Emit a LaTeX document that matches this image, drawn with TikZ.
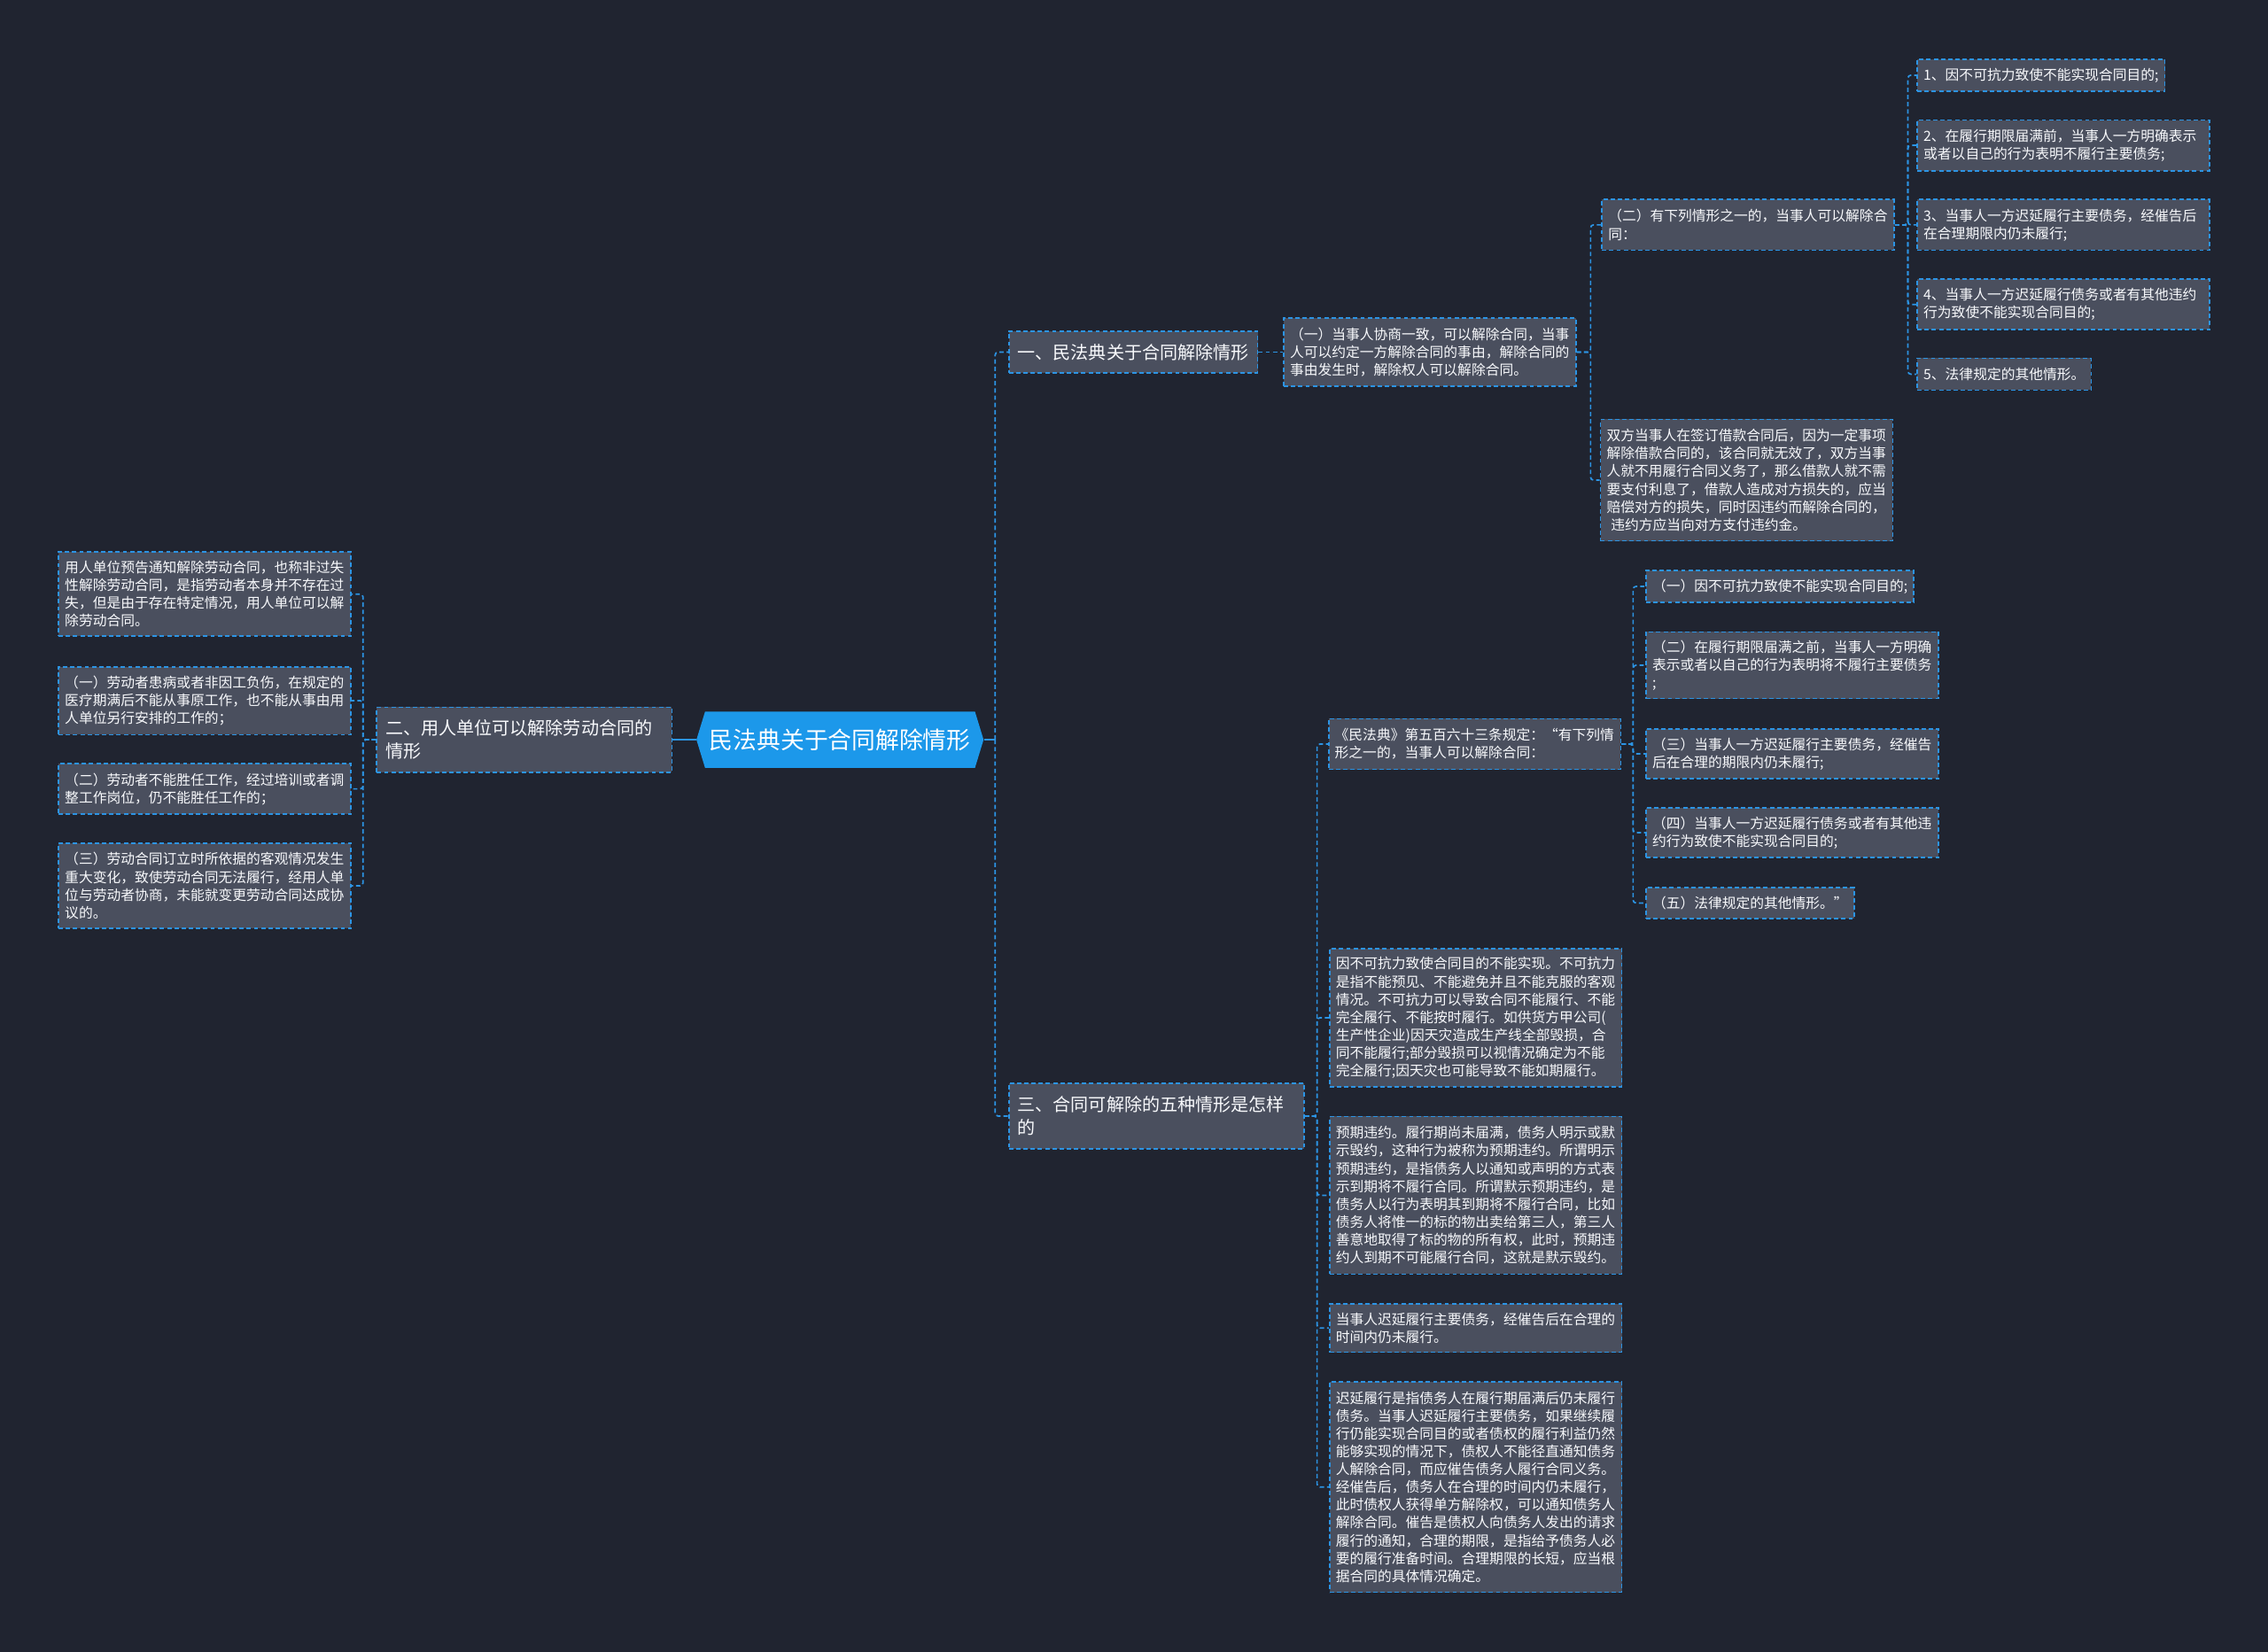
\documentclass[tikz,border=0pt]{standalone}
\usepackage{fontspec}
\setmainfont{Noto Sans CJK SC}
\usetikzlibrary{shapes.symbols}

\definecolor{bgnavy}{RGB}{32,36,48}
\definecolor{boxgrey}{RGB}{74,79,94}
\definecolor{edgeblue}{RGB}{44,148,228}
\definecolor{rootblue}{RGB}{28,152,234}
\definecolor{textwhite}{RGB}{248,249,252}

\begin{document}
\begin{tikzpicture}[x=0.3mm, y=-0.3mm,
		rootnode/.style={signal, signal to=east and west, signal pointer angle=146,
			fill=rootblue, text=white, font=\fontsize{14}{16}\selectfont,
			minimum width=59.55mm, minimum height=11.7mm, inner sep=0pt},
		topic/.style={draw=edgeblue, line width=0.9pt, dash pattern=on 0.9mm off 0.6mm,
			fill=boxgrey, text=textwhite, font=\fontsize{10.5}{13.5}\selectfont,
			align=left, anchor=west, inner xsep=1.8mm, inner ysep=0pt},
		box/.style={draw=edgeblue, line width=0.9pt, dash pattern=on 0.9mm off 0.6mm,
			fill=boxgrey, text=textwhite, font=\fontsize{8.24}{10.5}\selectfont,
			align=left, anchor=west, inner xsep=1.3mm, inner ysep=0pt},
		leaf/.style={box, text width=58mm},
		link/.style={draw=edgeblue, line width=0.9pt, dash pattern=on 0.9mm off 0.6mm,
			rounded corners=0.6mm},
		stub/.style={draw=edgeblue, line width=1.1pt},
		]
		
		\fill[bgnavy] (0,0) rectangle (1568,1142);
		
		%% ── ЦЕНТР ──────────────────────────────────────────────
		\node[rootnode] (root) at (580.75,511.5) {民法典关于合同解除情形};
		\coordinate (rj) at (688,511.5);
		
		\node[topic] (secA) at (697,243.5) [minimum height=8.7mm] {一、民法典关于合同解除情形};
		\node[topic, text width=57.6mm] (secB) at (260,511.5) [minimum height=13.5mm] {二、用人单位可以解除劳动合同的\\情形};
		\node[topic, text width=57.6mm] (secC) at (697,771.7) [minimum height=13.65mm] {三、合同可解除的五种情形是怎样\\的};
		
		\draw[stub] (root.east) -- (rj);
		\draw[link] (rj) |- (secA.west);
		\draw[link] (rj) |- (secC.west);
		\draw[stub] (root.west) -- (secB.east);
		
		%% ── ВЕТКА 一 ───────────────────────────────────────────
		\node[leaf] (a1) at (887,243.5) [minimum height=14.1mm]
		{（一）当事人协商一致，可以解除合同，当事\\人可以约定一方解除合同的事由，解除合同的\\事由发生时，解除权人可以解除合同。};
		\node[leaf] (a2) at (1107,155.5) [minimum height=10.5mm]
		{（二）有下列情形之一的，当事人可以解除合\\同：};
		\node[leaf] (a3) at (1106,332) [minimum height=25.2mm]
		{双方当事人在签订借款合同后，因为一定事项\\解除借款合同的，该合同就无效了，双方当事\\人就不用履行合同义务了，那么借款人就不需\\要支付利息了，借款人造成对方损失的，应当\\赔偿对方的损失，同时因违约而解除合同的，\\\hspace*{0.3em}违约方应当向对方支付违约金。};
		
		\draw[link] (secA.east) -- (a1.west);
		\draw[link] (a1.east) -- ++(9.6,0) |- (a2.west);
		\draw[link] (a1.east) -- ++(9.6,0) |- (a3.west);
		
		% пять пунктов
		\node[box] (c1) at (1325,52) [minimum height=6.6mm] {1、因不可抗力致使不能实现合同目的;};
		\node[leaf] (c2) at (1325,100.5) [minimum height=10.5mm]
		{2、在履行期限届满前，当事人一方明确表示\\或者以自己的行为表明不履行主要债务;};
		\node[leaf] (c3) at (1325,155.5) [minimum height=10.5mm]
		{3、当事人一方迟延履行主要债务，经催告后\\在合理期限内仍未履行;};
		\node[leaf] (c4) at (1325,210.5) [minimum height=10.5mm]
		{4、当事人一方迟延履行债务或者有其他违约\\行为致使不能实现合同目的;};
		\node[box] (c5) at (1325,258.75) [minimum height=6.6mm] {5、法律规定的其他情形。};
		
		\foreach \n in {c1,c2,c3,c4,c5}
		\draw[link] (a2.east) -- ++(9,0) |- (\n.west);
		
		%% ── ВЕТКА 二 ───────────────────────────────────────────
		\node[leaf] (b1) at (40,410.8) [minimum height=17.5mm]
		{用人单位预告通知解除劳动合同，也称非过失\\性解除劳动合同，是指劳动者本身并不存在过\\失，但是由于存在特定情况，用人单位可以解\\除劳动合同。};
		\node[leaf] (b2) at (40,484.5) [minimum height=14.1mm]
		{（一）劳动者患病或者非因工负伤，在规定的\\医疗期满后不能从事原工作，也不能从事由用\\人单位另行安排的工作的；};
		\node[leaf] (b3) at (40,545.5) [minimum height=10.5mm]
		{（二）劳动者不能胜任工作，经过培训或者调\\整工作岗位，仍不能胜任工作的；};
		\node[leaf] (b4) at (40,612.5) [minimum height=17.7mm]
		{（三）劳动合同订立时所依据的客观情况发生\\重大变化，致使劳动合同无法履行，经用人单\\位与劳动者协商，未能就变更劳动合同达成协\\议的。};
		
		\foreach \n in {b1,b2,b3,b4}
		\draw[link] (secB.west) -- ++(-9,0) |- (\n.east);
		
		%% ── ВЕТКА 三 ───────────────────────────────────────────
		\node[leaf] (k1) at (918,514.5) [minimum height=10.5mm]
		{《民法典》第五百六十三条规定：“有下列情\\形之一的，当事人可以解除合同：};
		\node[leaf] (k2) at (918.7,703.75) [minimum height=28.65mm]
		{因不可抗力致使合同目的不能实现。不可抗力\\是指不能预见、不能避免并且不能克服的客观\\情况。不可抗力可以导致合同不能履行、不能\\完全履行、不能按时履行。如供货方甲公司(\\生产性企业)因天灾造成生产线全部毁损，合\\同不能履行;部分毁损可以视情况确定为不能\\完全履行;因天灾也可能导致不能如期履行。};
		\node[leaf] (k3) at (918.7,826.5) [minimum height=32.7mm]
		{预期违约。履行期尚未届满，债务人明示或默\\示毁约，这种行为被称为预期违约。所谓明示\\预期违约，是指债务人以通知或声明的方式表\\示到期将不履行合同。所谓默示预期违约，是\\债务人以行为表明其到期将不履行合同，比如\\债务人将惟一的标的物出卖给第三人，第三人\\善意地取得了标的物的所有权，此时，预期违\\约人到期不可能履行合同，这就是默示毁约。};
		\node[leaf] (k4) at (918.7,918.25) [minimum height=10.05mm]
		{当事人迟延履行主要债务，经催告后在合理的\\时间内仍未履行。};
		\node[leaf] (k5) at (918.7,1028.25) [minimum height=43.65mm]
		{迟延履行是指债务人在履行期届满后仍未履行\\债务。当事人迟延履行主要债务，如果继续履\\行仍能实现合同目的或者债权的履行利益仍然\\能够实现的情况下，债权人不能径直通知债务\\人解除合同，而应催告债务人履行合同义务。\\经催告后，债务人在合理的时间内仍未履行，\\此时债权人获得单方解除权，可以通知债务人\\解除合同。催告是债权人向债务人发出的请求\\履行的通知，合理的期限，是指给予债务人必\\要的履行准备时间。合理期限的长短，应当根\\据合同的具体情况确定。};
		
		\foreach \n in {k1,k2,k3,k4,k5}
		\draw[link] (secC.east) -- ++(8.5,0) |- (\n.west);
		
		% 第五百六十三条 的五项
		\node[box] (d1) at (1137.5,405.5) [minimum height=6.6mm] {（一）因不可抗力致使不能实现合同目的;};
		\node[leaf] (d2) at (1137.5,460) [minimum height=13.8mm]
		{（二）在履行期限届满之前，当事人一方明确\\表示或者以自己的行为表明将不履行主要债务\\;};
		\node[leaf] (d3) at (1137.5,521.25) [minimum height=10.35mm]
		{（三）当事人一方迟延履行主要债务，经催告\\后在合理的期限内仍未履行;};
		\node[leaf] (d4) at (1137.5,575.8) [minimum height=10.35mm]
		{（四）当事人一方迟延履行债务或者有其他违\\约行为致使不能实现合同目的;};
		\node[box] (d5) at (1137.5,624.4) [minimum height=6.45mm] {（五）法律规定的其他情形。”};
		
		\foreach \n in {d1,d2,d3,d4,d5}
		\draw[link] (k1.east) -- ++(8,0) |- (\n.west);
		
	\end{tikzpicture}
\end{document}
